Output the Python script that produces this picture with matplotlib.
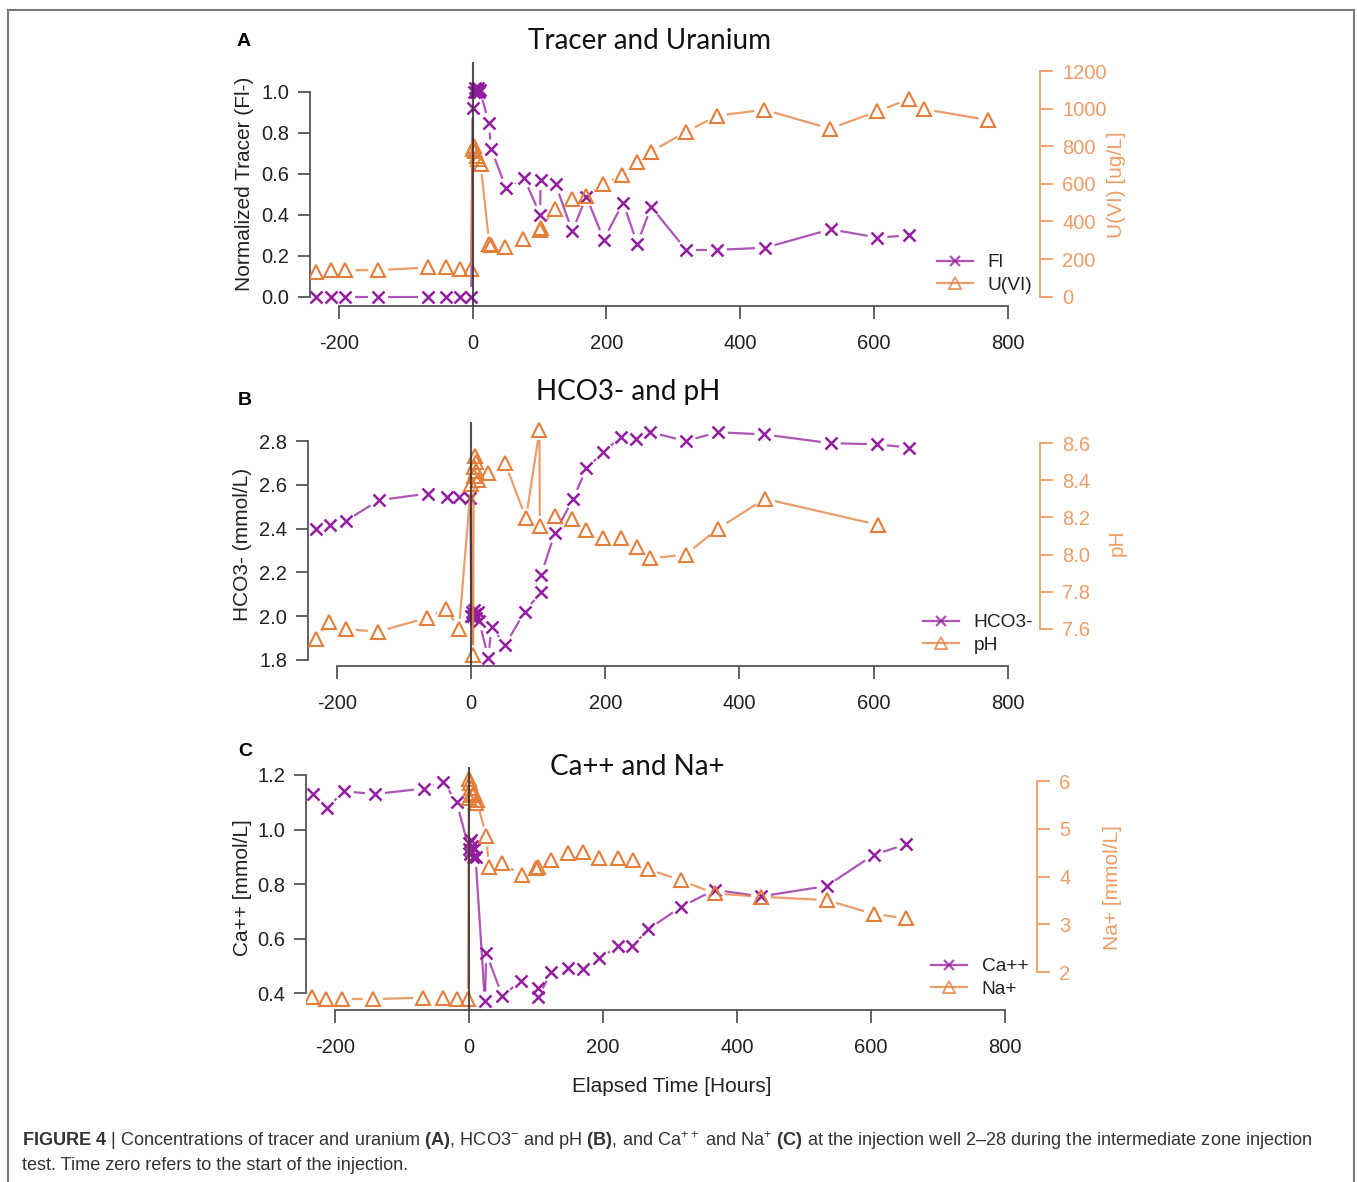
"""Injection-well concentrations over time: tracer/uranium, HCO3-/pH, Ca++/Na+.

Three stacked panels with twin y axes, R-style open axes and line-with-gap
('type="b"') connections between markers. Writes out.png.
"""
import numpy as np
import matplotlib
matplotlib.use("Agg")
import matplotlib.pyplot as plt
from matplotlib.collections import LineCollection
from matplotlib.lines import Line2D
from matplotlib.patches import Rectangle

# ---- panel A: tracer (normalized) and U(VI) [ug/L] ----
fl_t = [-234, -211, -190, -141, -66, -39, -19, -2, 0, 1.5, 3, 4.5, 6, 7.5, 9, 11,
        24, 28, 50, 77, 101, 101.5, 124, 149, 170, 196, 225, 246, 267,
        319, 365, 437, 535, 605, 652]
fl_v = [0.0, 0.0, 0.0, 0.0, 0.0, 0.0, 0.0, 0.0, 0.92, 1.0, 1.02, 1.0, 1.01, 1.02, 1.0, 1.01,
        0.85, 0.72, 0.53, 0.58, 0.40, 0.57, 0.55, 0.32, 0.49, 0.28, 0.46, 0.26, 0.44,
        0.23, 0.23, 0.24, 0.33, 0.29, 0.30]
u_t = [-234, -211, -190, -141, -66, -39, -19, -2, 0, 2, 4, 6, 8, 12,
       25, 28, 49, 76, 101, 102, 123, 148, 169, 195, 224, 246, 266,
       319, 365, 436, 534, 605, 652, 675, 771]
u_v = [130, 141, 140, 141, 155, 155, 147, 146, 785, 800, 775, 750, 730, 705,
       280, 272, 262, 309, 355, 365, 464, 521, 535, 597, 649, 716, 770,
       876, 962, 994, 894, 985, 1051, 997, 939]

# ---- panel B: HCO3- [mmol/L] and pH ----
hco3_t = [-231, -210, -187, -137, -64, -36, -18, -1, 0.5, 2, 3.5, 5, 6.5, 8, 10, 12,
          25.6, 30.6, 51, 80, 104, 104.5, 125, 152, 172, 197, 224, 246, 267,
          320, 368, 437, 536, 605, 653]
hco3_v = [2.40, 2.415, 2.435, 2.53, 2.56, 2.545, 2.545, 2.54, 2.00, 2.02, 2.00, 2.03, 2.01,
          1.99, 2.02, 1.98, 1.81, 1.95, 1.87, 2.02, 2.11, 2.19, 2.38, 2.535, 2.675,
          2.75, 2.82, 2.81, 2.84, 2.80, 2.84, 2.83, 2.79, 2.785, 2.77]
ph_t = [-231, -212, -187, -139, -66, -37, -18, 0, 3, 4, 5, 6, 7, 8, 10, 26,
        51, 82, 102, 102.5, 125, 150, 171, 197, 224, 247, 267, 320, 368, 438, 607]
ph_v = [7.545, 7.64, 7.60, 7.585, 7.66, 7.71, 7.60, 8.38, 7.46, 8.42, 8.47, 8.53, 8.50,
        8.45, 8.40, 8.44, 8.49, 8.195, 8.67, 8.155, 8.205, 8.19, 8.13, 8.09, 8.09,
        8.04, 7.98, 8.00, 8.14, 8.30, 8.16]

# ---- panel C: Ca++ and Na+ [mmol/L] ----
ca_t = [-232, -211, -187, -140, -67, -38, -18, 0, 1, 2, 3, 4, 5, 6, 8, 10,
        24, 26, 50, 78, 103, 103.5, 123, 148, 170, 195, 223, 244, 268,
        317, 367, 436, 534, 604, 653]
ca_v = [1.13, 1.08, 1.14, 1.13, 1.15, 1.175, 1.10, 0.93, 0.95, 0.91, 0.96, 0.92, 0.94,
        0.90, 0.93, 0.90, 0.37, 0.547, 0.39, 0.446, 0.418, 0.385, 0.479, 0.492,
        0.488, 0.528, 0.573, 0.573, 0.635, 0.717, 0.779, 0.755, 0.793, 0.907, 0.946]
na_t = [-234, -213, -190, -143, -68, -39, -18, -1, 0, 1, 2, 4, 6, 8, 10, 12,
        26, 30, 50, 80, 101, 103, 123, 148, 170, 195, 222, 245, 267,
        317, 367, 436, 534, 604, 653]
na_v = [1.48, 1.45, 1.44, 1.44, 1.47, 1.47, 1.44, 1.44, 5.65, 6.05, 5.95, 5.85, 5.70,
        5.75, 5.55, 5.60, 4.84, 4.21, 4.28, 4.03, 4.18, 4.21, 4.35, 4.49, 4.52,
        4.40, 4.38, 4.34, 4.16, 3.92, 3.65, 3.58, 3.51, 3.22, 3.13]

x_ticks = [-200, 0, 200, 400, 600, 800]

W, H = 1357, 1182
PURPLE = "#931D9F"
ORANGE = "#E47E3B"
AX_ORANGE = "#EE9D66"
AX_GREY = "#555555"
TXT = "#222222"
GAP = 10  # px left open around each marker on the connecting lines
TICK_FS = 14.5

plt.rcParams["font.family"] = ["Liberation Sans", "DejaVu Sans"]
plt.rcParams["mathtext.fontset"] = "custom"
plt.rcParams["mathtext.rm"] = "Liberation Sans"
plt.rcParams["mathtext.bf"] = "Liberation Sans:bold"
plt.rcParams["mathtext.it"] = "Liberation Sans:italic"

fig = plt.figure(figsize=(W / 100, H / 100), dpi=100)


def fx(x):
    return x / W


def fy(y):
    return 1 - y / H


def connect(ax, t, v, color):
    """Lines between consecutive points, cut back GAP px from each marker."""
    pts = ax.transData.transform(np.column_stack([t, v]))
    inv = ax.transData.inverted()
    segs = []
    for p, q in zip(pts[:-1], pts[1:]):
        d = q - p
        L = np.hypot(*d)
        if L <= 2 * GAP:
            continue
        u = d / L
        segs.append(inv.transform([p + u * GAP, q - u * GAP]))
    ax.add_collection(LineCollection(segs, colors=color, linewidths=1.6, alpha=0.75))


def panel(left, top, right, bottom, ylim_l, yt_l, yfmt_l, ylim_r, yt_r, yfmt_r,
          t1, v1, t2, v2):
    ax = fig.add_axes([fx(left), fy(bottom), fx(right - left), (bottom - top) / H])
    ax.set_xlim(-243, 848)
    ax.set_ylim(*ylim_l)
    ax2 = ax.twinx()
    ax2.set_ylim(*ylim_r)

    for s in ("top", "right"):
        ax.spines[s].set_visible(False)
    for s in ("top", "left", "bottom"):
        ax2.spines[s].set_visible(False)
    ax.spines["left"].set_bounds(yt_l[0], yt_l[-1])
    ax.spines["bottom"].set_bounds(x_ticks[0], x_ticks[-1])
    ax2.spines["right"].set_bounds(yt_r[0], yt_r[-1])
    for s in ("left", "bottom"):
        ax.spines[s].set_color(AX_GREY)
        ax.spines[s].set_linewidth(1.3)
    ax2.spines["right"].set_color(AX_ORANGE)
    ax2.spines["right"].set_linewidth(1.3)

    ax.set_xticks(x_ticks)
    ax.set_xticklabels([str(x) for x in x_ticks])
    ax.set_yticks(yt_l)
    ax.set_yticklabels([yfmt_l.format(y) for y in yt_l])
    ax2.set_yticks(yt_r)
    ax2.set_yticklabels([yfmt_r.format(y) for y in yt_r])
    ax.tick_params(axis="x", length=9, width=1.3, color=AX_GREY, labelsize=TICK_FS,
                   labelcolor=TXT, pad=11)
    ax.tick_params(axis="y", length=9, width=1.3, color=AX_GREY, labelsize=TICK_FS,
                   labelcolor=TXT, pad=6)
    ax2.tick_params(axis="y", length=9, width=1.3, color=AX_ORANGE, labelsize=TICK_FS,
                    labelcolor=AX_ORANGE, pad=7)

    connect(ax, t1, v1, PURPLE)
    ax.plot(t1, v1, ls="none", marker="x", ms=8, mew=1.8, color=PURPLE)
    connect(ax2, t2, v2, ORANGE)
    ax2.plot(t2, v2, ls="none", marker="^", ms=10, mew=1.5, mfc="none", mec=ORANGE)
    ax2.axvline(0, color="#333333", lw=1.5, alpha=0.85)
    return ax, ax2


def legend(x, y, labels):
    handles = [
        Line2D([], [], color=PURPLE, lw=1.6, alpha=0.75, marker="x", ms=7, mew=1.6),
        Line2D([], [], color=ORANGE, lw=1.6, alpha=0.75, marker="^", ms=8.5, mew=1.4,
               mfc="none"),
    ]
    fig.legend(handles, labels, loc="upper left", bbox_to_anchor=(fx(x), fy(y)),
               frameon=False, fontsize=13.8, handlelength=1.9, handletextpad=0.75,
               labelspacing=0.25, borderpad=0, borderaxespad=0, labelcolor=TXT)


# A
panel(310, 62, 1040, 306, (-0.044, 1.146), [0, 0.2, 0.4, 0.6, 0.8, 1.0], "{:.1f}",
      (-50, 1248), [0, 200, 400, 600, 800, 1000, 1200], "{:d}",
      fl_t, fl_v, u_t, u_v)
# B
panel(308, 422, 1040, 666, (1.7726, 2.8868), [1.8, 2.0, 2.2, 2.4, 2.6, 2.8], "{:.1f}",
      (7.401, 8.713), [7.6, 7.8, 8.0, 8.2, 8.4, 8.6], "{:.1f}",
      hco3_t, hco3_v, ph_t, ph_v)
# C
panel(306, 767, 1037, 1010, (0.3388, 1.229), [0.4, 0.6, 0.8, 1.0, 1.2], "{:.1f}",
      (1.212, 6.293), [2, 3, 4, 5, 6], "{:d}",
      ca_t, ca_v, na_t, na_v)

legend(937, 254, ["Fl", "U(VI)"])
legend(923, 614, ["HCO3-", "pH"])
legend(931, 958, ["Ca++", "Na+"])

# titles, panel letters, axis labels
title_kw = dict(fontsize=20, family=["Lato", "DejaVu Sans"], color="#111111",
                ha="center", va="center")
fig.text(fx(650), fy(41), "Tracer and Uranium", **title_kw)
fig.text(fx(628), fy(392), "HCO3- and pH", **title_kw)
fig.text(fx(637), fy(767), "Ca++ and Na+", **title_kw)
for x, y, s in [(244, 42, "A"), (245, 401, "B"), (245, 752, "C")]:
    fig.text(fx(x), fy(y), s, fontsize=14, fontweight="bold", ha="center", va="center")

lab_kw = dict(fontsize=15, rotation=90, ha="center", va="center")
fig.text(fx(245), fy(184), "Normalized Tracer (Fl-)", color=TXT, **lab_kw)
fig.text(fx(1117), fy(185), "U(VI) [ug/L]", color=AX_ORANGE, **lab_kw)
fig.text(fx(243), fy(544), "HCO3- (mmol/L)", color=TXT, **lab_kw)
fig.text(fx(1117), fy(543), "pH", color=AX_ORANGE, **lab_kw)
fig.text(fx(242), fy(888), "Ca++ [mmol/L]", color=TXT, **lab_kw)
fig.text(fx(1112), fy(888), "Na+ [mmol/L]", color=AX_ORANGE, **lab_kw)
fig.text(fx(672), fy(1086), "Elapsed Time [Hours]", color=TXT, fontsize=15,
         ha="center", va="center")

# caption and frame
cap1 = (r"$\mathbf{FIGURE\ 4}$ | Concentrations of tracer and uranium $\mathbf{(A)}$, "
        r"HCO3$^{-}$ and pH $\mathbf{(B)}$, and Ca$^{++}$ and Na$^{+}$ $\mathbf{(C)}$ "
        "at the injection well 2\u201328 during the intermediate zone injection")
cap2 = "test. Time zero refers to the start of the injection."
fig.text(fx(22), fy(1141), cap1, fontsize=13.1, color="#333333", va="center")
fig.text(fx(22), fy(1166), cap2, fontsize=13.1, color="#333333", va="center")

fig.add_artist(Rectangle((fx(8), fy(1200)), fx(1346), (1200 - 10) / H,
                         transform=fig.transFigure, fill=False, ec="#777777", lw=1.5))

fig.savefig("out.png", dpi=100)
plt.close(fig)
